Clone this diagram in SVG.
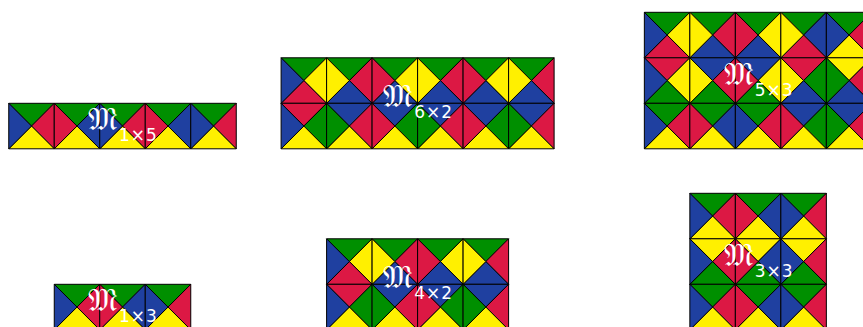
<svg xmlns="http://www.w3.org/2000/svg" xmlns:xlink="http://www.w3.org/1999/xlink" width="863" height="327" viewBox="0 0 863 327">
<style>
use{stroke:#000;stroke-width:1;stroke-linejoin:miter}
.g{fill:#008f00}.b{fill:#1f40a0}.r{fill:#dc1844}.y{fill:#fff000}
.lbl{fill:#fff;text-anchor:middle}
.m{font-family:'DejaVu Serif','DejaVu Sans',serif;font-size:32px}
.s{font-family:'DejaVu Sans','Noto Sans',sans-serif;font-size:17px;letter-spacing:1px}
</style>
<defs>
<path id="T" d="M0,0H45.5L22.75,22.75Z"/>
<path id="R" d="M45.5,0V45.5L22.75,22.75Z"/>
<path id="B" d="M0,45.5H45.5L22.75,22.75Z"/>
<path id="L" d="M0,0V45.5L22.75,22.75Z"/>
</defs>
<rect width="863" height="327" fill="#fff"/>

<g id="M1x5">
<g transform="translate(8.75 103.3)"><use href="#T" class="g"/><use href="#R" class="r"/><use href="#B" class="y"/><use href="#L" class="b"/></g>
<g transform="translate(54.25 103.3)"><use href="#T" class="g"/><use href="#R" class="b"/><use href="#B" class="y"/><use href="#L" class="r"/></g>
<g transform="translate(99.75 103.3)"><use href="#T" class="g"/><use href="#R" class="r"/><use href="#B" class="y"/><use href="#L" class="b"/></g>
<g transform="translate(145.25 103.3)"><use href="#T" class="g"/><use href="#R" class="b"/><use href="#B" class="y"/><use href="#L" class="r"/></g>
<g transform="translate(190.75 103.3)"><use href="#T" class="g"/><use href="#R" class="r"/><use href="#B" class="y"/><use href="#L" class="b"/></g>
<text class="lbl" x="123" y="130"><tspan class="m">𝔐</tspan><tspan class="s" dx="2" dy="11">1×5</tspan></text>
</g>

<g id="M6x2">
<g transform="translate(281.1 57.8)"><use href="#T" class="g"/><use href="#R" class="y"/><use href="#B" class="r"/><use href="#L" class="b"/></g>
<g transform="translate(326.6 57.8)"><use href="#T" class="g"/><use href="#R" class="r"/><use href="#B" class="b"/><use href="#L" class="y"/></g>
<g transform="translate(372.1 57.8)"><use href="#T" class="g"/><use href="#R" class="y"/><use href="#B" class="b"/><use href="#L" class="r"/></g>
<g transform="translate(417.6 57.8)"><use href="#T" class="g"/><use href="#R" class="r"/><use href="#B" class="b"/><use href="#L" class="y"/></g>
<g transform="translate(463.1 57.8)"><use href="#T" class="g"/><use href="#R" class="y"/><use href="#B" class="b"/><use href="#L" class="r"/></g>
<g transform="translate(508.6 57.8)"><use href="#T" class="g"/><use href="#R" class="r"/><use href="#B" class="b"/><use href="#L" class="y"/></g>
<g transform="translate(281.1 103.3)"><use href="#T" class="r"/><use href="#R" class="g"/><use href="#B" class="y"/><use href="#L" class="b"/></g>
<g transform="translate(326.6 103.3)"><use href="#T" class="b"/><use href="#R" class="r"/><use href="#B" class="y"/><use href="#L" class="g"/></g>
<g transform="translate(372.1 103.3)"><use href="#T" class="b"/><use href="#R" class="g"/><use href="#B" class="y"/><use href="#L" class="r"/></g>
<g transform="translate(417.6 103.3)"><use href="#T" class="b"/><use href="#R" class="r"/><use href="#B" class="y"/><use href="#L" class="g"/></g>
<g transform="translate(463.1 103.3)"><use href="#T" class="b"/><use href="#R" class="g"/><use href="#B" class="y"/><use href="#L" class="r"/></g>
<g transform="translate(508.6 103.3)"><use href="#T" class="b"/><use href="#R" class="r"/><use href="#B" class="y"/><use href="#L" class="g"/></g>
<text class="lbl" x="418.1" y="107.3"><tspan class="m">𝔐</tspan><tspan class="s" dx="2" dy="11">6×2</tspan></text>
</g>

<g id="M5x3">
<g transform="translate(644.35 12.3)"><use href="#T" class="g"/><use href="#R" class="y"/><use href="#B" class="r"/><use href="#L" class="b"/></g>
<g transform="translate(689.85 12.3)"><use href="#T" class="g"/><use href="#R" class="r"/><use href="#B" class="b"/><use href="#L" class="y"/></g>
<g transform="translate(735.35 12.3)"><use href="#T" class="g"/><use href="#R" class="y"/><use href="#B" class="b"/><use href="#L" class="r"/></g>
<g transform="translate(780.85 12.3)"><use href="#T" class="g"/><use href="#R" class="b"/><use href="#B" class="r"/><use href="#L" class="y"/></g>
<g transform="translate(826.35 12.3)"><use href="#T" class="g"/><use href="#R" class="r"/><use href="#B" class="y"/><use href="#L" class="b"/></g>
<g transform="translate(644.35 57.8)"><use href="#T" class="r"/><use href="#R" class="y"/><use href="#B" class="g"/><use href="#L" class="b"/></g>
<g transform="translate(689.85 57.8)"><use href="#T" class="b"/><use href="#R" class="r"/><use href="#B" class="g"/><use href="#L" class="y"/></g>
<g transform="translate(735.35 57.8)"><use href="#T" class="b"/><use href="#R" class="y"/><use href="#B" class="g"/><use href="#L" class="r"/></g>
<g transform="translate(780.85 57.8)"><use href="#T" class="r"/><use href="#R" class="g"/><use href="#B" class="b"/><use href="#L" class="y"/></g>
<g transform="translate(826.35 57.8)"><use href="#T" class="y"/><use href="#R" class="r"/><use href="#B" class="b"/><use href="#L" class="g"/></g>
<g transform="translate(644.35 103.3)"><use href="#T" class="g"/><use href="#R" class="r"/><use href="#B" class="y"/><use href="#L" class="b"/></g>
<g transform="translate(689.85 103.3)"><use href="#T" class="g"/><use href="#R" class="b"/><use href="#B" class="y"/><use href="#L" class="r"/></g>
<g transform="translate(735.35 103.3)"><use href="#T" class="g"/><use href="#R" class="r"/><use href="#B" class="y"/><use href="#L" class="b"/></g>
<g transform="translate(780.85 103.3)"><use href="#T" class="b"/><use href="#R" class="g"/><use href="#B" class="y"/><use href="#L" class="r"/></g>
<g transform="translate(826.35 103.3)"><use href="#T" class="b"/><use href="#R" class="r"/><use href="#B" class="y"/><use href="#L" class="g"/></g>
<text class="lbl" x="758.6" y="84.5"><tspan class="m">𝔐</tspan><tspan class="s" dx="2" dy="11">5×3</tspan></text>
</g>

<g id="M1x3">
<g transform="translate(54.25 284.3)"><use href="#T" class="g"/><use href="#R" class="r"/><use href="#B" class="y"/><use href="#L" class="b"/></g>
<g transform="translate(99.75 284.3)"><use href="#T" class="g"/><use href="#R" class="b"/><use href="#B" class="y"/><use href="#L" class="r"/></g>
<g transform="translate(145.25 284.3)"><use href="#T" class="g"/><use href="#R" class="r"/><use href="#B" class="y"/><use href="#L" class="b"/></g>
<text class="lbl" x="123" y="311"><tspan class="m">𝔐</tspan><tspan class="s" dx="2" dy="11">1×3</tspan></text>
</g>

<g id="M4x2">
<g transform="translate(326.6 238.8)"><use href="#T" class="g"/><use href="#R" class="y"/><use href="#B" class="r"/><use href="#L" class="b"/></g>
<g transform="translate(372.1 238.8)"><use href="#T" class="g"/><use href="#R" class="r"/><use href="#B" class="b"/><use href="#L" class="y"/></g>
<g transform="translate(417.6 238.8)"><use href="#T" class="g"/><use href="#R" class="y"/><use href="#B" class="b"/><use href="#L" class="r"/></g>
<g transform="translate(463.1 238.8)"><use href="#T" class="g"/><use href="#R" class="r"/><use href="#B" class="b"/><use href="#L" class="y"/></g>
<g transform="translate(326.6 284.3)"><use href="#T" class="r"/><use href="#R" class="g"/><use href="#B" class="y"/><use href="#L" class="b"/></g>
<g transform="translate(372.1 284.3)"><use href="#T" class="b"/><use href="#R" class="r"/><use href="#B" class="y"/><use href="#L" class="g"/></g>
<g transform="translate(417.6 284.3)"><use href="#T" class="b"/><use href="#R" class="g"/><use href="#B" class="y"/><use href="#L" class="r"/></g>
<g transform="translate(463.1 284.3)"><use href="#T" class="b"/><use href="#R" class="r"/><use href="#B" class="y"/><use href="#L" class="g"/></g>
<text class="lbl" x="418.1" y="288.3"><tspan class="m">𝔐</tspan><tspan class="s" dx="2" dy="11">4×2</tspan></text>
</g>

<g id="M3x3">
<g transform="translate(689.85 193.3)"><use href="#T" class="g"/><use href="#R" class="r"/><use href="#B" class="y"/><use href="#L" class="b"/></g>
<g transform="translate(735.35 193.3)"><use href="#T" class="g"/><use href="#R" class="b"/><use href="#B" class="y"/><use href="#L" class="r"/></g>
<g transform="translate(780.85 193.3)"><use href="#T" class="g"/><use href="#R" class="r"/><use href="#B" class="y"/><use href="#L" class="b"/></g>
<g transform="translate(689.85 238.8)"><use href="#T" class="y"/><use href="#R" class="r"/><use href="#B" class="g"/><use href="#L" class="b"/></g>
<g transform="translate(735.35 238.8)"><use href="#T" class="y"/><use href="#R" class="b"/><use href="#B" class="g"/><use href="#L" class="r"/></g>
<g transform="translate(780.85 238.8)"><use href="#T" class="y"/><use href="#R" class="r"/><use href="#B" class="g"/><use href="#L" class="b"/></g>
<g transform="translate(689.85 284.3)"><use href="#T" class="g"/><use href="#R" class="r"/><use href="#B" class="y"/><use href="#L" class="b"/></g>
<g transform="translate(735.35 284.3)"><use href="#T" class="g"/><use href="#R" class="b"/><use href="#B" class="y"/><use href="#L" class="r"/></g>
<g transform="translate(780.85 284.3)"><use href="#T" class="g"/><use href="#R" class="r"/><use href="#B" class="y"/><use href="#L" class="b"/></g>
<text class="lbl" x="758.6" y="265.5"><tspan class="m">𝔐</tspan><tspan class="s" dx="2" dy="11">3×3</tspan></text>
</g>
</svg>
